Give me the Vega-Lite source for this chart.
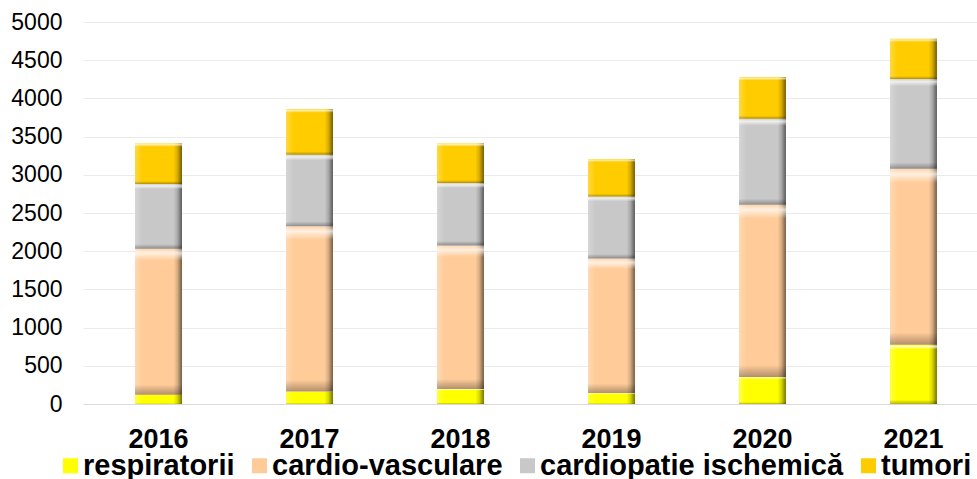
{
  "$schema": "https://vega.github.io/schema/vega-lite/v6.json",
  "autosize": "none",
  "width": 894,
  "height": 382,
  "padding": {"left": 83, "top": 22, "right": 0, "bottom": 75},
  "background": "white",
  "config": {
    "view": {"stroke": null},
    "font": "Liberation Sans"
  },
  "data": {
    "values": [
      {"an": "2016", "cauza": "respiratorii", "valoare": 122},
      {"an": "2016", "cauza": "cardio-vasculare", "valoare": 1911},
      {"an": "2016", "cauza": "cardiopatie ischemică", "valoare": 847},
      {"an": "2016", "cauza": "tumori", "valoare": 531},
      {"an": "2017", "cauza": "respiratorii", "valoare": 165},
      {"an": "2017", "cauza": "cardio-vasculare", "valoare": 2160},
      {"an": "2017", "cauza": "cardiopatie ischemică", "valoare": 938},
      {"an": "2017", "cauza": "tumori", "valoare": 598},
      {"an": "2018", "cauza": "respiratorii", "valoare": 196},
      {"an": "2018", "cauza": "cardio-vasculare", "valoare": 1880},
      {"an": "2018", "cauza": "cardiopatie ischemică", "valoare": 817},
      {"an": "2018", "cauza": "tumori", "valoare": 518},
      {"an": "2019", "cauza": "respiratorii", "valoare": 144},
      {"an": "2019", "cauza": "cardio-vasculare", "valoare": 1762},
      {"an": "2019", "cauza": "cardiopatie ischemică", "valoare": 811},
      {"an": "2019", "cauza": "tumori", "valoare": 490},
      {"an": "2020", "cauza": "respiratorii", "valoare": 353},
      {"an": "2020", "cauza": "cardio-vasculare", "valoare": 2256},
      {"an": "2020", "cauza": "cardiopatie ischemică", "valoare": 1125},
      {"an": "2020", "cauza": "tumori", "valoare": 546},
      {"an": "2021", "cauza": "respiratorii", "valoare": 776},
      {"an": "2021", "cauza": "cardio-vasculare", "valoare": 2304},
      {"an": "2021", "cauza": "cardiopatie ischemică", "valoare": 1174},
      {"an": "2021", "cauza": "tumori", "valoare": 527}
    ]
  },
  "transform": [
    {"calculate": "indexof(['respiratorii','cardio-vasculare','cardiopatie ischemică','tumori'], datum.cauza)", "as": "ordine"}
  ],
  "encoding": {
    "x": {
      "field": "an",
      "type": "nominal",
      "scale": {"paddingInner": 0.689, "paddingOuter": 0.305, "align": 0.565},
      "axis": {
        "title": null,
        "labelAngle": 0,
        "labelFont": "Liberation Sans",
        "labelFontSize": 27,
        "labelFontWeight": "bold",
        "labelColor": "#000000",
        "ticks": false,
        "tickSize": 0,
        "labelPadding": 22,
        "domain": true,
        "domainColor": "#D9D9D9",
        "domainWidth": 1
      }
    },
    "y": {
      "field": "valoare",
      "type": "quantitative",
      "stack": "zero",
      "scale": {"domain": [0, 5000], "nice": false},
      "axis": {
        "title": null,
        "values": [0, 500, 1000, 1500, 2000, 2500, 3000, 3500, 4000, 4500, 5000],
        "format": "d",
        "labelFont": "Liberation Sans",
        "labelFontSize": 23,
        "labelColor": "#000000",
        "ticks": false,
        "tickSize": 0,
        "labelPadding": 21,
        "domain": false,
        "grid": true,
        "gridColor": "#EBEBEB",
        "gridWidth": 1
      }
    },
    "order": {"field": "ordine", "type": "quantitative", "sort": "ascending"}
  },
  "layer": [
    {
      "mark": {"type": "bar"},
      "encoding": {
        "color": {
          "field": "cauza",
          "type": "nominal",
          "scale": {
            "domain": ["respiratorii", "cardio-vasculare", "cardiopatie ischemică", "tumori"],
            "range": ["#FFFF00", "#FFCC99", "#C8C8C8", "#FFCC00"]
          },
          "legend": {
            "title": null,
            "orient": "none",
            "direction": "horizontal",
            "legendX": -27,
            "legendY": 429,
            "padding": 0,
            "symbolType": "square",
            "symbolSize": 225,
            "symbolStrokeWidth": 0,
            "labelFont": "Liberation Sans",
            "labelFontSize": 29,
            "labelFontWeight": "bold",
            "labelColor": "#000000",
            "labelOffset": -2,
            "columnPadding": 10,
            "labelLimit": 1000
          }
        }
      }
    },
    {
      "mark": {
        "type": "bar",
        "fill": {
          "gradient": "linear",
          "x1": 0, "y1": 0, "x2": 1, "y2": 0,
          "stops": [
            {"offset": 0, "color": "rgba(255,255,255,0.25)"},
            {"offset": 0.16, "color": "rgba(255,255,255,0)"},
            {"offset": 0.82, "color": "rgba(0,0,0,0)"},
            {"offset": 0.9, "color": "rgba(0,0,0,0.15)"},
            {"offset": 1, "color": "rgba(0,0,0,0.55)"}
          ]
        }
      }
    },
    {
      "mark": {
        "type": "bar",
        "fill": {
          "gradient": "linear",
          "x1": 0, "y1": 0, "x2": 0, "y2": 1,
          "stops": [
            {"offset": 0, "color": "rgba(255,255,255,0.15)"},
            {"offset": 0.03, "color": "rgba(255,255,255,0.7)"},
            {"offset": 0.08, "color": "rgba(255,255,255,0)"},
            {"offset": 0.93, "color": "rgba(0,0,0,0)"},
            {"offset": 1, "color": "rgba(0,0,0,0.3)"}
          ]
        }
      }
    }
  ]
}
